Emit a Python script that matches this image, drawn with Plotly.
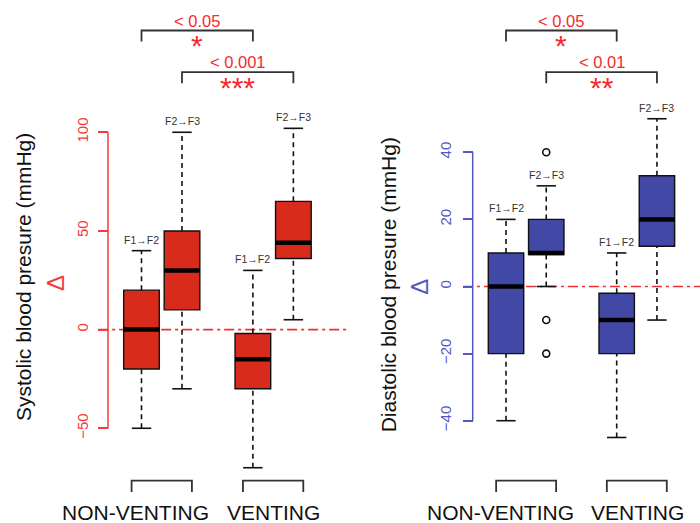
import plotly.graph_objects as go

# ---------------- data ----------------
groups = ["NON-VENTING", "VENTING"]
intervals = ["F1→F2", "F2→F3", "F1→F2", "F2→F3"]
positions = [0, 1, 2.75, 3.75]
group_centers = [0.5, 3.25]
group_label_x = [-0.14, 3.27]

sys_q1 = [-20, 10, -30, 36]
sys_med = [0, 30, -15, 44]
sys_q3 = [20, 50, -2, 65]
sys_lo = [-50, -30, -70, 5]
sys_hi = [40, 100, 30, 102]
sys_out_x = []
sys_out_y = []

dia_q1 = [-20, 9.5, -20, 12]
dia_med = [0, 10, -10, 20]
dia_q3 = [10, 20, -2, 33]
dia_lo = [-40, 0, -45, -10]
dia_hi = [20, 30, 10, 50]
dia_out_x = [1, 1, 1]
dia_out_y = [40, -10, -20]

sys_ticks = [-50, 0, 50, 100]
dia_ticks = [-40, -20, 0, 20, 40]

sig_pairs = [(0, 2), (1, 3)]
sys_sig_p = ["< 0.05", "< 0.001"]
sys_sig_star = ["*", "***"]
dia_sig_p = ["< 0.05", "< 0.01"]
dia_sig_star = ["*", "**"]

# ---------------- style ----------------
RED_BOX = "#D92B1C"
BLUE_BOX = "#4248A6"
RED_AX = "#F53A3A"
BLUE_AX = "#5558C4"
SIG_RED = "#F52A2A"
FONT = "Liberation Sans, Arial, sans-serif"
W, H = 700, 523
BOX_W = 0.88
CAP_HALF = 0.24
BRACKET_HALF = 0.745

fig = go.Figure()


def ann(**kw):
    kw.setdefault("showarrow", False)
    kw.setdefault("xanchor", "center")
    kw.setdefault("yanchor", "middle")
    fig.add_annotation(**kw)


def panel(xa, ya, q1, med, q3, lo, hi, ox, oy, color):
    xref = "x" if xa == "xaxis" else "x2"
    yref = "y" if ya == "yaxis" else "y2"
    # whiskers (dashed)
    wx, wy = [], []
    for p, a, b, c, d in zip(positions, lo, q1, q3, hi):
        wx += [p, p, None, p, p, None]
        wy += [a, b, None, c, d, None]
    fig.add_trace(go.Scatter(x=wx, y=wy, mode="lines", xaxis=xref, yaxis=yref,
                             line=dict(color="#111", width=1.6, dash="5px,4px"),
                             hoverinfo="skip", showlegend=False))
    # caps
    cx, cy = [], []
    for p, a, d in zip(positions, lo, hi):
        cx += [p - CAP_HALF, p + CAP_HALF, None, p - CAP_HALF, p + CAP_HALF, None]
        cy += [a, a, None, d, d, None]
    fig.add_trace(go.Scatter(x=cx, y=cy, mode="lines", xaxis=xref, yaxis=yref,
                             line=dict(color="#111", width=1.6),
                             hoverinfo="skip", showlegend=False))
    # boxes
    fig.add_trace(go.Bar(x=positions, base=q1, y=[b - a for a, b in zip(q1, q3)],
                         width=BOX_W, xaxis=xref, yaxis=yref,
                         marker=dict(color=color, line=dict(color="#111", width=1.4)),
                         hoverinfo="skip", showlegend=False))
    # medians
    mx, my = [], []
    for p, m in zip(positions, med):
        mx += [p - BOX_W / 2, p + BOX_W / 2, None]
        my += [m, m, None]
    fig.add_trace(go.Scatter(x=mx, y=my, mode="lines", xaxis=xref, yaxis=yref,
                             line=dict(color="#000", width=4.5),
                             hoverinfo="skip", showlegend=False))
    # outliers
    if ox:
        fig.add_trace(go.Scatter(x=ox, y=oy, mode="markers", xaxis=xref, yaxis=yref,
                                 marker=dict(symbol="circle-open", size=7,
                                             color="#111", line=dict(width=1.6)),
                                 hoverinfo="skip", showlegend=False))
    # interval labels
    for p, d, t in zip(positions, hi, intervals):
        ann(x=p, y=d, xref=xref, yref=yref, text=t, yshift=11,
            font=dict(size=10.5, color="#333", family=FONT))


panel("xaxis", "yaxis", sys_q1, sys_med, sys_q3, sys_lo, sys_hi, sys_out_x, sys_out_y, RED_BOX)
panel("xaxis2", "yaxis2", dia_q1, dia_med, dia_q3, dia_lo, dia_hi, dia_out_x, dia_out_y, BLUE_BOX)

# zero reference lines (dash-dot)
for xref, yref, x0 in [("x", "y", -1.07), ("x2", "y2", -1.07)]:
    fig.add_shape(type="line", xref=xref, yref=yref, x0=x0, x1=6, y0=0, y1=0,
                  line=dict(color="#F03030", width=1.6, dash="10px,4px,3px,4px"), layer="below")

# axis lines (R-style, only across the tick range)
fig.add_shape(type="line", xref="paper", yref="y", x0=108 / W, x1=108 / W,
              y0=min(sys_ticks), y1=max(sys_ticks), line=dict(color=RED_AX, width=1.5))
fig.add_shape(type="line", xref="paper", yref="y2", x0=472.7 / W, x1=472.7 / W,
              y0=min(dia_ticks), y1=max(dia_ticks), line=dict(color=BLUE_AX, width=1.5))


# significance brackets
def sig(xref, texts, stars):
    tops = [1 - 30.5 / H, 1 - 72.2 / H]
    legs = [1 - 41.5 / H, 1 - 83.3 / H]
    ptxt = [1 - 20.7 / H, 1 - 62.3 / H]
    stxt = [1 - 43.0 / H, 1 - 86.0 / H]
    for k, (i, j) in enumerate(sig_pairs):
        a, b = positions[i], positions[j]
        fig.add_shape(type="path", xref=xref, yref="paper",
                      path=f"M {a},{legs[k]} L {a},{tops[k]} L {b},{tops[k]} L {b},{legs[k]}",
                      line=dict(color="#333", width=1.8))
        ann(x=(a + b) / 2, y=ptxt[k], xref=xref, yref="paper", text=texts[k],
            font=dict(size=16.5, color=SIG_RED, family=FONT))
        ann(x=(a + b) / 2, y=stxt[k], xref=xref, yref="paper", text=stars[k],
            yshift=-2, font=dict(size=30, color=SIG_RED, family=FONT))


sig("x", sys_sig_p, sys_sig_star)
sig("x2", dia_sig_p, dia_sig_star)

# group brackets and labels
for xref in ["x", "x2"]:
    for c, g, lx in zip(group_centers, groups, group_label_x):
        a, b = c - BRACKET_HALF, c + BRACKET_HALF
        top, leg = 1 - 480.7 / H, 1 - 492 / H
        fig.add_shape(type="path", xref=xref, yref="paper",
                      path=f"M {a},{leg} L {a},{top} L {b},{top} L {b},{leg}",
                      line=dict(color="#333", width=1.8))
        ann(x=lx, y=1 - 512 / H, xref=xref, yref="paper", text=g,
            font=dict(size=21, color="#111", family=FONT))

# y labels and deltas
ann(x=23 / W, y=1 - 277 / H, xref="paper", yref="paper",
    text="Systolic blood presure (mmHg)", textangle=-90,
    font=dict(size=21, color="#111", family=FONT))
ann(x=388.3 / W, y=1 - 285 / H, xref="paper", yref="paper",
    text="Diastolic blood presure (mmHg)", textangle=-90,
    font=dict(size=21, color="#111", family=FONT))
ann(x=55 / W, y=1 - 283 / H, xref="paper", yref="paper", text="Δ",
    textangle=-90, font=dict(size=24, color=RED_AX, family=FONT))
ann(x=420 / W, y=1 - 286.7 / H, xref="paper", yref="paper", text="Δ",
    textangle=-90, font=dict(size=24, color=BLUE_AX, family=FONT))

hidden_x = dict(showgrid=False, zeroline=False, showline=False, showticklabels=False, ticks="")
fig.update_layout(
    width=W, height=H, margin=dict(l=0, r=0, t=0, b=0),
    paper_bgcolor="white", plot_bgcolor="white", barmode="overlay",
    font=dict(family=FONT),
    xaxis=dict(domain=[0, 0.5], range=[-141.5 / 40.5, (350 - 141.5) / 40.5], anchor="y", **hidden_x),
    xaxis2=dict(domain=[0.5, 1], range=[(350 - 506) / 40.25, (700 - 506) / 40.25], anchor="y2", **hidden_x),
    yaxis=dict(domain=[0, 1], range=[-(H - 329.6) / 1.9733, 329.6 / 1.9733], anchor="free",
               position=108 / W, showgrid=False, zeroline=False, showline=False,
               tickmode="array", tickvals=sys_ticks, ticks="outside", ticklen=10,
               tickwidth=1.5, tickcolor=RED_AX, tickangle=-90, ticklabelstandoff=4,
               tickfont=dict(size=15, color=RED_AX, family=FONT)),
    yaxis2=dict(domain=[0, 1], range=[-(H - 286.5) / 3.355, 286.5 / 3.355], anchor="free",
                position=472.7 / W, showgrid=False, zeroline=False, showline=False,
                tickmode="array", tickvals=dia_ticks, ticks="outside", ticklen=10,
                tickwidth=1.5, tickcolor=BLUE_AX, tickangle=-90, ticklabelstandoff=6,
                tickfont=dict(size=15, color=BLUE_AX, family=FONT)),
)

fig.write_html("out.html", config={"displayModeBar": False},
               post_script="document.body.style.margin='0';document.body.style.overflow='hidden';")
